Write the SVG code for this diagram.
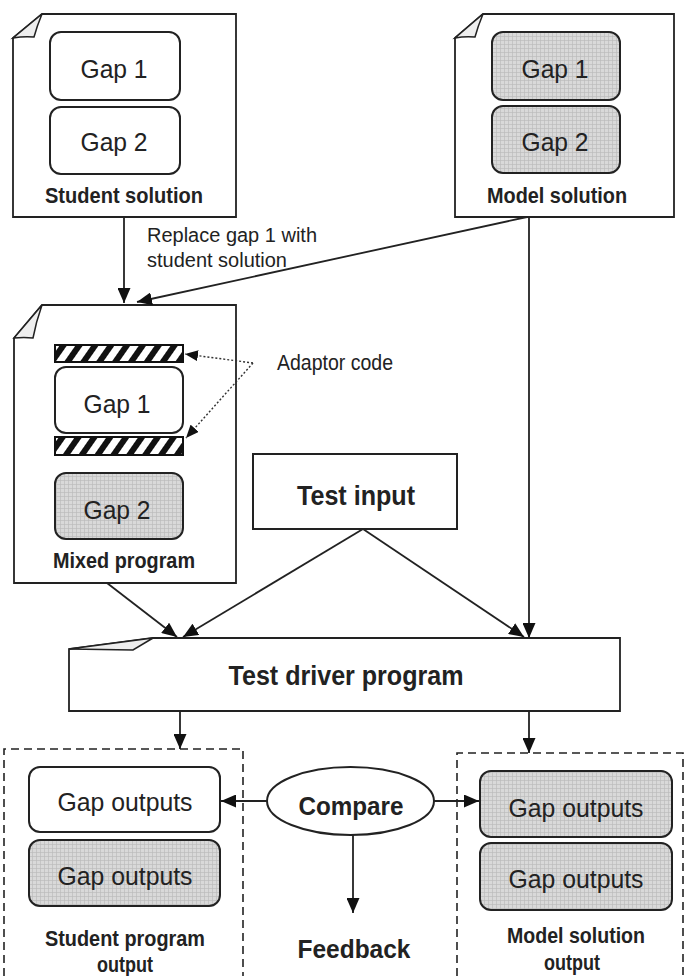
<svg xmlns="http://www.w3.org/2000/svg" width="685" height="976" viewBox="0 0 685 976">
<defs>
<pattern id="grid" patternUnits="userSpaceOnUse" width="4" height="4">
<rect width="4" height="4" fill="#d9d9d9"/>
<path d="M0 0.5H4M0.5 0V4" stroke="#bcbcbc" stroke-width="0.7"/>
</pattern>
<pattern id="hatch" patternUnits="userSpaceOnUse" width="13" height="13" patternTransform="rotate(35)">
<rect width="13" height="13" fill="#fff"/>
<rect width="6" height="13" fill="#111"/>
</pattern>
<marker id="ah" markerUnits="userSpaceOnUse" markerWidth="15" markerHeight="13" refX="15" refY="6.5" orient="auto">
<path d="M0,0 L15,6.5 L0,13 Z" fill="#111"/>
</marker>
<marker id="ahs" markerUnits="userSpaceOnUse" markerWidth="13" markerHeight="11" refX="13" refY="5.5" orient="auto">
<path d="M0,0 L13,5.5 L0,11 Z" fill="#111"/>
</marker>
</defs>
<style>
.doc{fill:#fff;stroke:#222;stroke-width:1.8}
.curl{fill:#eee;stroke:#222;stroke-width:1.5}
.gap{fill:#fff;stroke:#222;stroke-width:2}
.gaps{fill:url(#grid);stroke:#222;stroke-width:2}
.bar{fill:url(#hatch);stroke:#111;stroke-width:2}
.box{fill:#fff;stroke:#222;stroke-width:2}
.dash{fill:none;stroke:#222;stroke-width:1.6;stroke-dasharray:8,5}
.t{font-family:"Liberation Sans",Arial,sans-serif;fill:#222;text-anchor:middle}
.tl{font-family:"Liberation Sans",Arial,sans-serif;fill:#222}
.b{font-weight:bold}
.ln{fill:none;stroke:#222;stroke-width:1.8;marker-end:url(#ah)}
.dot{fill:none;stroke:#333;stroke-width:1.4;stroke-dasharray:2,2;marker-end:url(#ahs)}
</style>

<g id="student-solution">
<path class="doc" d="M42,14 H236 V217 H13 V38 Z"/>
<path class="curl" d="M42,14 Q37,26 34,37 Q24,36 13,38 Z"/>
<rect class="gap" x="50" y="32" width="130" height="68" rx="11"/>
<text class="t" x="114" y="78" font-size="26" textLength="67" lengthAdjust="spacingAndGlyphs">Gap 1</text>
<rect class="gap" x="50" y="107" width="130" height="67" rx="11"/>
<text class="t" x="114" y="151" font-size="26" textLength="67" lengthAdjust="spacingAndGlyphs">Gap 2</text>
<text class="t b" x="124" y="203" font-size="22" textLength="158" lengthAdjust="spacingAndGlyphs">Student solution</text>
</g>

<g id="model-solution">
<path class="doc" d="M483,14 H674 V217 H455 V38 Z"/>
<path class="curl" d="M483,14 Q478,26 475,37 Q465,36 455,38 Z"/>
<rect class="gaps" x="492" y="32" width="128" height="68" rx="11"/>
<text class="t" x="555" y="78" font-size="26" textLength="67" lengthAdjust="spacingAndGlyphs">Gap 1</text>
<rect class="gaps" x="492" y="106" width="128" height="67" rx="11"/>
<text class="t" x="555" y="151" font-size="26" textLength="67" lengthAdjust="spacingAndGlyphs">Gap 2</text>
<text class="t b" x="557" y="203" font-size="22" textLength="140" lengthAdjust="spacingAndGlyphs">Model solution</text>
</g>

<g id="replace-label">
<text class="tl" x="147" y="242" font-size="20" textLength="170" lengthAdjust="spacingAndGlyphs">Replace gap 1 with</text>
<text class="tl" x="147" y="267" font-size="20" textLength="140" lengthAdjust="spacingAndGlyphs">student solution</text>
</g>

<g id="mixed-program">
<path class="doc" d="M42,305 H236 V583 H14 V338 Z"/>
<path class="curl" d="M42,305 Q36,322 33,338 Q24,337 14,338 Z"/>
<rect class="bar" x="55" y="345" width="128" height="17"/>
<rect class="gap" x="55" y="367" width="128" height="66" rx="11"/>
<text class="t" x="117" y="413" font-size="26" textLength="67" lengthAdjust="spacingAndGlyphs">Gap 1</text>
<rect class="bar" x="55" y="437" width="128" height="18"/>
<rect class="gaps" x="55" y="473" width="128" height="66" rx="11"/>
<text class="t" x="117" y="519" font-size="26" textLength="67" lengthAdjust="spacingAndGlyphs">Gap 2</text>
<text class="t b" x="124" y="568" font-size="22" textLength="142" lengthAdjust="spacingAndGlyphs">Mixed program</text>
</g>

<g id="adaptor-code">
<text class="tl" x="277" y="370" font-size="22" textLength="116" lengthAdjust="spacingAndGlyphs">Adaptor code</text>
</g>

<g id="test-input">
<rect class="box" x="253" y="454" width="204" height="75"/>
<text class="t b" x="356" y="505" font-size="27" textLength="118" lengthAdjust="spacingAndGlyphs">Test input</text>
</g>

<g id="test-driver">
<path class="doc" d="M153,638 H620 V711 H69 V649 Z"/>
<path class="curl" d="M153,638 L133,650 L69,649 Z"/>
<text class="t b" x="346" y="685" font-size="27" textLength="235" lengthAdjust="spacingAndGlyphs">Test driver program</text>
</g>

<g id="student-output">
<path class="dash" d="M4,976 V749 H243 V976"/>
<rect class="gap" x="29" y="767" width="191" height="65" rx="11"/>
<text class="t" x="125" y="811" font-size="25" textLength="135" lengthAdjust="spacingAndGlyphs">Gap outputs</text>
<rect class="gaps" x="29" y="840" width="191" height="66" rx="11"/>
<text class="t" x="125" y="885" font-size="25" textLength="135" lengthAdjust="spacingAndGlyphs">Gap outputs</text>
<text class="t b" x="125" y="946" font-size="22" textLength="160" lengthAdjust="spacingAndGlyphs">Student program</text>
<text class="t b" x="125" y="972" font-size="22" textLength="56" lengthAdjust="spacingAndGlyphs">output</text>
</g>

<g id="model-output">
<path class="dash" d="M457,976 V753 H683 V976"/>
<rect class="gaps" x="480" y="771" width="192" height="66" rx="11"/>
<text class="t" x="576" y="817" font-size="25" textLength="135" lengthAdjust="spacingAndGlyphs">Gap outputs</text>
<rect class="gaps" x="480" y="843" width="192" height="67" rx="11"/>
<text class="t" x="576" y="888" font-size="25" textLength="135" lengthAdjust="spacingAndGlyphs">Gap outputs</text>
<text class="t b" x="576" y="943" font-size="22" textLength="138" lengthAdjust="spacingAndGlyphs">Model solution</text>
<text class="t b" x="572" y="970" font-size="22" textLength="56" lengthAdjust="spacingAndGlyphs">output</text>
</g>

<g id="compare">
<ellipse class="box" cx="350.5" cy="801" rx="83.5" ry="34"/>
<text class="t b" x="351" y="815" font-size="25" textLength="105" lengthAdjust="spacingAndGlyphs">Compare</text>
</g>

<g id="feedback">
<text class="t b" x="354" y="958" font-size="25" textLength="113" lengthAdjust="spacingAndGlyphs">Feedback</text>
</g>

<g id="connectors">
<line class="ln" x1="124" y1="217" x2="124" y2="303"/>
<line class="ln" x1="527" y1="217" x2="137" y2="302"/>
<line class="ln" x1="529" y1="217" x2="529" y2="638"/>
<line class="ln" x1="107" y1="583" x2="177" y2="637"/>
<line class="ln" x1="363" y1="529" x2="183" y2="637"/>
<line class="ln" x1="363" y1="529" x2="524" y2="637"/>
<line class="ln" x1="180" y1="711" x2="180" y2="749"/>
<line class="ln" x1="529" y1="711" x2="529" y2="753"/>
<line class="ln" x1="267" y1="801" x2="221" y2="801"/>
<line class="ln" x1="434" y1="801" x2="479" y2="801"/>
<line class="ln" x1="353" y1="835" x2="353" y2="913"/>
<line class="dot" x1="253" y1="363" x2="185" y2="354"/>
<line class="dot" x1="253" y1="363" x2="186" y2="438"/>
</g>
</svg>
